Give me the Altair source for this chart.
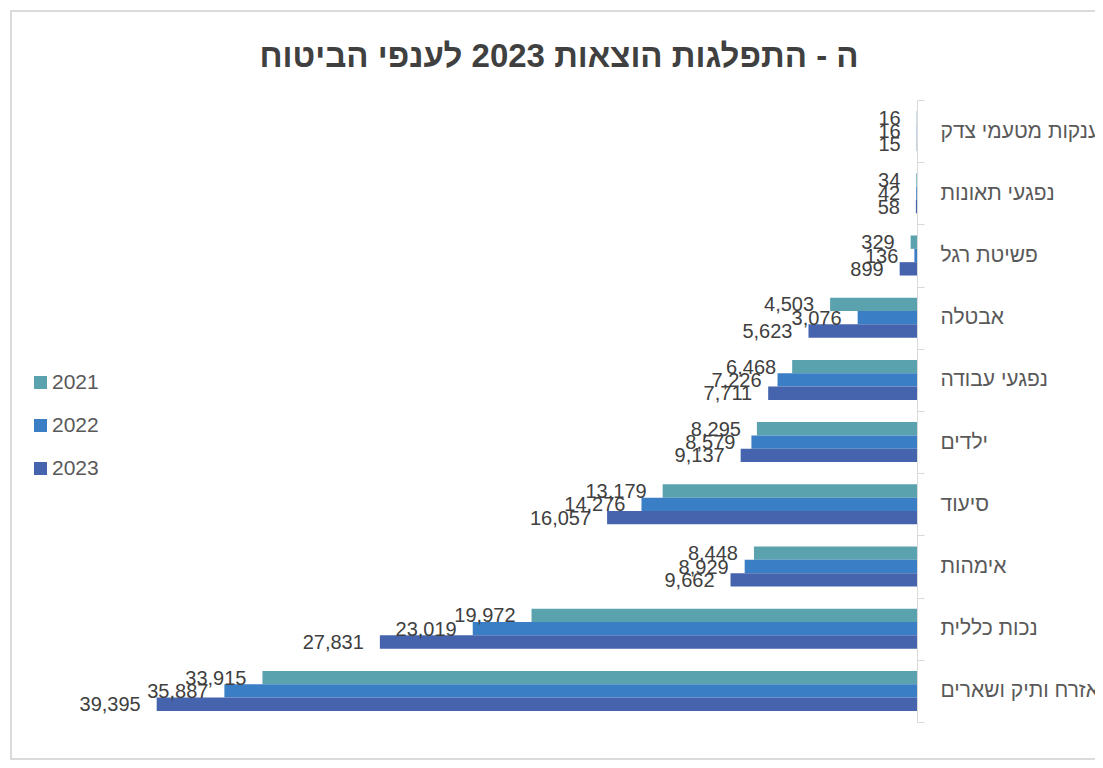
import altair as alt
import pandas as pd

categories = [
    "הענקות מטעמי צדק",
    "נפגעי תאונות",
    "פשיטת רגל",
    "אבטלה",
    "נפגעי עבודה",
    "ילדים",
    "סיעוד",
    "אימהות",
    "נכות כללית",
    "אזרח ותיק ושארים",
]
years = ["2021", "2022", "2023"]
v2021 = [16, 34, 329, 4503, 6468, 8295, 13179, 8448, 19972, 33915]
v2022 = [16, 42, 136, 3076, 7226, 8579, 14276, 8929, 23019, 35887]
v2023 = [15, 58, 899, 5623, 7711, 9137, 16057, 9662, 27831, 39395]
colors = ["#5AA2AE", "#3A7EC6", "#4664AD"]
title_text = "ה - התפלגות הוצאות 2023 לענפי הביטוח"

rows = []
for yr, vals in zip(years, [v2021, v2022, v2023]):
    for c, v in zip(categories, vals):
        rows.append({"cat": c, "year": yr, "value": v})
df = pd.DataFrame(rows)

FONT = "Liberation Sans"

x_enc = alt.X("value:Q", scale=alt.Scale(domain=[0, 40000], reverse=True), axis=None)
y_enc = alt.Y(
    "cat:N",
    sort=categories,
    scale=alt.Scale(paddingInner=0, paddingOuter=0),
    axis=alt.Axis(
        orient="right",
        title=None,
        tickBand="extent",
        domainColor="#d9d9d9",
        tickColor="#d9d9d9",
        tickSize=7,
        labelPadding=16,
        labelFontSize=21,
        labelFont=FONT,
        labelColor="#595959",
        labelLimit=0,
    ),
)
yoff_enc = alt.YOffset("year:N", sort=years, scale=alt.Scale(paddingInner=0, paddingOuter=0.83))

base = alt.Chart(df)

bars = base.mark_bar().encode(
    x=x_enc,
    y=y_enc,
    yOffset=yoff_enc,
    color=alt.Color(
        "year:N",
        scale=alt.Scale(domain=years, range=colors),
        legend=alt.Legend(
            title=None,
            orient="none",
            legendX=-115,
            legendY=272,
            symbolType="square",
            symbolSize=169,
            symbolStrokeWidth=0,
            labelFontSize=21,
            labelFont=FONT,
            labelColor="#595959",
            labelOffset=1,
            rowPadding=21,
        ),
    ),
)

labels = base.mark_text(
    align="right", baseline="middle", dx=-16, dy=1, fontSize=20, font=FONT, color="#404040"
).encode(
    x=x_enc,
    y=y_enc,
    yOffset=yoff_enc,
    text=alt.Text("value:Q", format=","),
)

frame = alt.Chart(pd.DataFrame({"a": [0]})).mark_rect(
    filled=False, stroke="#cfcfcf", strokeWidth=1.5
).encode(
    x=alt.value(-134), x2=alt.value(1100), y=alt.value(-89), y2=alt.value(659)
)

chart = alt.layer(frame, bars, labels).properties(
    width=772,
    height=622,
    title=alt.Title(
        title_text,
        fontSize=33,
        font=FONT,
        fontWeight="bold",
        color="#404040",
        anchor="middle",
        dx=28,
        dy=90,
        baseline="alphabetic",
        offset=0,
    ),
    autosize=alt.AutoSizeParams(type="none"),
    padding={"left": 137, "top": 92, "right": 178, "bottom": 38},
).configure_view(stroke=None)

chart.save("out.html", embed_options={"renderer": "svg", "actions": False})
